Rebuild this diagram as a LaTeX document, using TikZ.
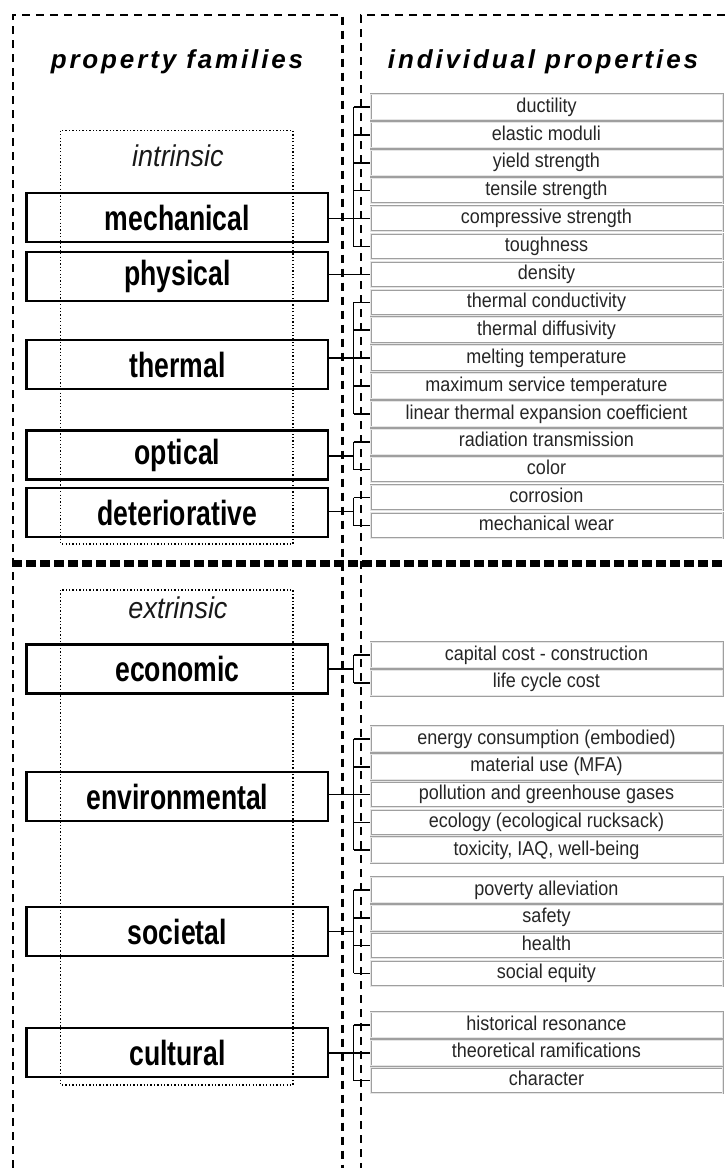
\documentclass[tikz,border=0pt]{standalone}
\usepackage{fontspec}
\setmainfont{Liberation Sans}
\newfontfamily\famfont[FakeStretch=0.76]{Liberation Sans}
\newfontfamily\propfont[FakeStretch=0.9]{Liberation Sans}
\newfontfamily\grpfont[FakeStretch=0.9]{Liberation Sans}
\newfontfamily\hdrfont[LetterSpace=11]{Liberation Sans}
\usetikzlibrary{calc}
\tikzset{
  fam/.style={draw, line width=2.8pt, minimum width=301.3pt, minimum height=49pt, inner sep=0pt,
    font=\famfont\bfseries\fontsize{35}{35}\selectfont},
  prop/.style={draw=gray!75, line width=0.7pt, double=gray!20, double distance=0.6pt,
    fill=white, minimum width=352pt, minimum height=25.5pt,
    inner sep=0pt, text height=14.4pt, text depth=4.2pt, text=black!85,
    font=\propfont\fontsize{20}{20}\selectfont},
  conn/.style={line width=1.5pt, black},
  frame/.style={line width=2.5pt, dash pattern=on 8pt off 6pt},
  sep/.style={line width=7pt, dash pattern=on 10pt off 4pt},
  grpbox/.style={line width=1.3pt, dash pattern=on 1.3pt off 2.1pt},
  grplabel/.style={font=\grpfont\itshape\fontsize{30}{30}\selectfont, text=black!90},
  header/.style={font=\hdrfont\bfseries\itshape\fontsize{26}{26}\selectfont}
}
\begin{document}
\begin{tikzpicture}[x=1pt, y=-1pt]
\useasboundingbox (0,0) rectangle (725,1168);

% headers
\node[header] (h1) at (177,62) {property families};
\node[header] (h2) at (543,62) {individual properties};

% group boxes
\draw[grpbox] (60.7,130.7) rectangle (293,544);
\draw[grpbox] (60.7,590) rectangle (293,1085);
\node[grplabel] (intr) at (178,156) {intrinsic};
\node[grplabel] (extr) at (178,608) {extrinsic};

% family boxes
\node[fam] (mech) at (177.4,217.5) {mechanical};
\node[fam] (phys) at (177.4,276.5) {physical};
\node[fam] (therm) at (177.4,364.5) {thermal};
\node[fam] (opt) at (177.4,455) {optical};
\node[fam] (det) at (177.4,512.5) {deteriorative};
\node[fam] (econ) at (177.4,669) {economic};
\node[fam] (env) at (177.4,796.5) {environmental};
\node[fam] (soc) at (177.4,931.5) {societal};
\node[fam] (cult) at (177.4,1052.5) {cultural};

% property boxes
\foreach \i/\t in {0/ductility,1/elastic moduli,2/yield strength,3/tensile strength,
  4/compressive strength,5/toughness,6/density,7/thermal conductivity,8/thermal diffusivity,
  9/melting temperature,10/maximum service temperature,11/linear thermal expansion coefficient,
  12/radiation transmission,13/color,14/corrosion,15/mechanical wear}
  \node[prop] (p\i) at (546.5,107+27.9*\i) {\t};
\node[prop] (e0) at (546.5,655) {capital cost - construction};
\node[prop] (e1) at (546.5,682.75) {life cycle cost};
\foreach \i/\t in {0/energy consumption (embodied),1/material use (MFA),2/pollution and greenhouse gases,
  3/ecology (ecological rucksack),4/{toxicity, IAQ, well-being}}
  \node[prop] (v\i) at (546.5,739+27.75*\i) {\t};
\foreach \i/\t in {0/poverty alleviation,1/safety,2/health,3/social equity}
  \node[prop] (s\i) at (546.5,890+27.75*\i) {\t};
\foreach \i/\t in {0/historical resonance,1/theoretical ramifications,2/character}
  \node[prop] (c\i) at (546.5,1025+27.75*\i) {\t};

% bus x position
\coordinate (bus) at (353.5,0);

% connectors
% mechanical
\draw[conn] (mech.east |- p4.west) -- (p4.west);
\draw[conn] (bus |- p0.west) -- (bus |- p5.west);
\foreach \i in {0,...,5} \draw[conn] (bus |- p\i.west) -- (p\i.west);
% physical
\draw[conn] (phys.east |- p6.west) -- (p6.west);
% thermal
\draw[conn] (therm.east |- p9.west) -- (p9.west);
\draw[conn] (bus |- p7.west) -- (bus |- p11.west);
\foreach \i in {7,...,11} \draw[conn] (bus |- p\i.west) -- (p\i.west);
% optical
\coordinate (optm) at ($(p12.west)!0.5!(p13.west)$);
\draw[conn] (opt.east |- optm) -- (bus |- optm);
\draw[conn] (bus |- p12.west) -- (bus |- p13.west);
\foreach \i in {12,13} \draw[conn] (bus |- p\i.west) -- (p\i.west);
% deteriorative
\coordinate (detm) at ($(p14.west)!0.5!(p15.west)$);
\draw[conn] (det.east |- detm) -- (bus |- detm);
\draw[conn] (bus |- p14.west) -- (bus |- p15.west);
\foreach \i in {14,15} \draw[conn] (bus |- p\i.west) -- (p\i.west);
% economic
\coordinate (econm) at ($(e0.west)!0.5!(e1.west)$);
\draw[conn] (econ.east |- econm) -- (bus |- econm);
\draw[conn] (bus |- e0.west) -- (bus |- e1.west);
\foreach \i in {0,1} \draw[conn] (bus |- e\i.west) -- (e\i.west);
% environmental
\draw[conn] (env.east |- v2.west) -- (v2.west);
\draw[conn] (bus |- v0.west) -- (bus |- v4.west);
\foreach \i in {0,...,4} \draw[conn] (bus |- v\i.west) -- (v\i.west);
% societal
\coordinate (socm) at ($(s1.west)!0.5!(s2.west)$);
\draw[conn] (soc.east |- socm) -- (bus |- socm);
\draw[conn] (bus |- s0.west) -- (bus |- s3.west);
\foreach \i in {0,...,3} \draw[conn] (bus |- s\i.west) -- (s\i.west);
% cultural
\draw[conn] (cult.east |- c1.west) -- (c1.west);
\draw[conn] (bus |- c0.west) -- (bus |- c2.west);
\foreach \i in {0,1,2} \draw[conn] (bus |- c\i.west) -- (c\i.west);

% dashed frames
\draw[frame] (13,1168) -- (13,15) -- (342.5,15) -- (342.5,1168);
\draw[frame] (725,15) -- (361,15) -- (361,1168);

% separator
\draw[sep] (12,563) -- (725,563);
\end{tikzpicture}
\end{document}
